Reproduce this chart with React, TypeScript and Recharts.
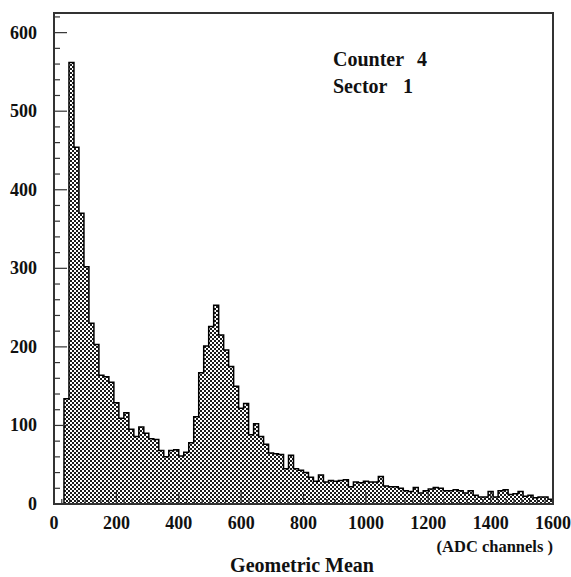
import React from 'react';
import { ComposedChart, Area, XAxis, YAxis, ReferenceArea } from 'recharts';

// Histogram: 100 bins of 16 ADC channels each, from 0 to 1600
const BIN_WIDTH = 16;
const X_MAX = 1600;
const Y_MAX = 625;
const counts = [
  0, 0, 134, 562, 454, 370, 302, 230, 203, 164,
  162, 155, 129, 109, 116, 95, 86, 98, 90, 83,
  82, 68, 60, 68, 69, 61, 66, 78, 111, 167,
  201, 226, 253, 215, 196, 175, 150, 122, 128, 88,
  102, 86, 76, 65, 64, 63, 45, 62, 45, 43,
  40, 34, 29, 37, 28, 30, 29, 30, 31, 22,
  28, 27, 29, 28, 28, 35, 23, 22, 22, 20,
  17, 16, 21, 14, 17, 19, 21, 20, 17, 17,
  18, 17, 14, 17, 11, 9, 9, 16, 9, 17,
  18, 12, 13, 16, 10, 11, 8, 9, 9, 6,
];
const xLabelTicks = [0, 200, 400, 600, 800, 1000, 1200, 1400, 1600];
const yLabelTicks = [0, 100, 200, 300, 400, 500, 600];
const X_MINOR = 25;
const Y_MINOR = 20;
const annotations = [
  { label: 'Counter', value: '4' },
  { label: 'Sector', value: '1' },
];
const xUnit = '(ADC channels )';
const xTitle = 'Geometric Mean';

const data = counts.map((c, i) => ({ x: i * BIN_WIDTH, count: c }));
data.push({ x: X_MAX, count: counts[counts.length - 1] });

const xTicks: number[] = [];
for (let v = 0; v <= X_MAX; v += X_MINOR) xTicks.push(v);
const yTicks: number[] = [];
for (let v = 0; v <= 620; v += Y_MINOR) yTicks.push(v);

const FONT = '"Liberation Serif", "Times New Roman", serif';
const AXIS = '#333';

const XTick = (props: any) => {
  const { x, y, payload } = props;
  const v = payload.value;
  const major = xLabelTicks.includes(v);
  return (
    <g>
      <line x1={x} x2={x} y1={y} y2={y - (major ? 12 : 5)} stroke={AXIS} strokeWidth={1.2} />
      {major && (
        <text x={x} y={y + 24.5} textAnchor="middle" fontFamily={FONT} fontWeight="bold" fontSize={18} fill="#111">
          {v}
        </text>
      )}
    </g>
  );
};

const YTick = (props: any) => {
  const { x, y, payload } = props;
  const v = payload.value;
  const major = yLabelTicks.includes(v);
  return (
    <g>
      <line x1={x} x2={x + (major ? 13 : 6)} y1={y} y2={y} stroke={AXIS} strokeWidth={1.2} />
      {major && (
        <text x={x - 17} y={y + 6} textAnchor="end" fontFamily={FONT} fontWeight="bold" fontSize={18} fill="#111">
          {v}
        </text>
      )}
    </g>
  );
};

export default function App() {
  return (
    <div style={{ position: 'absolute', left: 0, top: 0, width: 571, height: 577, background: '#fff' }}>
      <ComposedChart
        width={571}
        height={577}
        data={data}
        margin={{ top: 13, right: 18, left: 0, bottom: 43 }}
      >
        <defs>
          <pattern id="xhatch" patternUnits="userSpaceOnUse" x={0} y={0} width={4} height={4}>
            <rect width={4} height={4} fill="#1a1a1a" shapeRendering="crispEdges" />
            <rect x={0} y={0} width={2} height={2} fill="#fff" shapeRendering="crispEdges" />
            <rect x={2} y={2} width={2} height={2} fill="#fff" shapeRendering="crispEdges" />
          </pattern>
        </defs>
        <Area
          type="stepAfter"
          dataKey="count"
          stroke="#000"
          strokeWidth={1.5}
          fill="url(#xhatch)"
          fillOpacity={1}
          dot={false}
          activeDot={false}
          isAnimationActive={false}
        />
        <ReferenceArea x1={0} x2={X_MAX} y1={0} y2={Y_MAX} fill="none" stroke={AXIS} strokeWidth={2} fillOpacity={0} />
        <XAxis
          type="number"
          dataKey="x"
          domain={[0, X_MAX]}
          ticks={xTicks}
          interval={0}
          tickSize={0}
          tickMargin={0}
          tickLine={false}
          axisLine={{ stroke: AXIS, strokeWidth: 2 }}
          tick={<XTick />}
          height={30}
          allowDataOverflow
        />
        <YAxis
          type="number"
          domain={[0, Y_MAX]}
          ticks={yTicks}
          interval={0}
          tickSize={0}
          tickMargin={0}
          tickLine={false}
          axisLine={{ stroke: AXIS, strokeWidth: 2 }}
          tick={<YTick />}
          width={54}
          allowDataOverflow
        />
      </ComposedChart>
      <svg width={571} height={577} style={{ position: 'absolute', left: 0, top: 0, pointerEvents: 'none' }}>
        <g fontFamily={FONT} fontWeight="bold" fill="#111">
          <text x={333} y={66} fontSize={20}>{annotations[0].label}</text>
          <text x={417} y={66} fontSize={20}>{annotations[0].value}</text>
          <text x={333} y={93} fontSize={20}>{annotations[1].label}</text>
          <text x={403} y={93} fontSize={20}>{annotations[1].value}</text>
          <text x={553} y={552} fontSize={16.5} textAnchor="end">{xUnit}</text>
          <text x={302} y={572} fontSize={20} textAnchor="middle">{xTitle}</text>
        </g>
      </svg>
    </div>
  );
}
